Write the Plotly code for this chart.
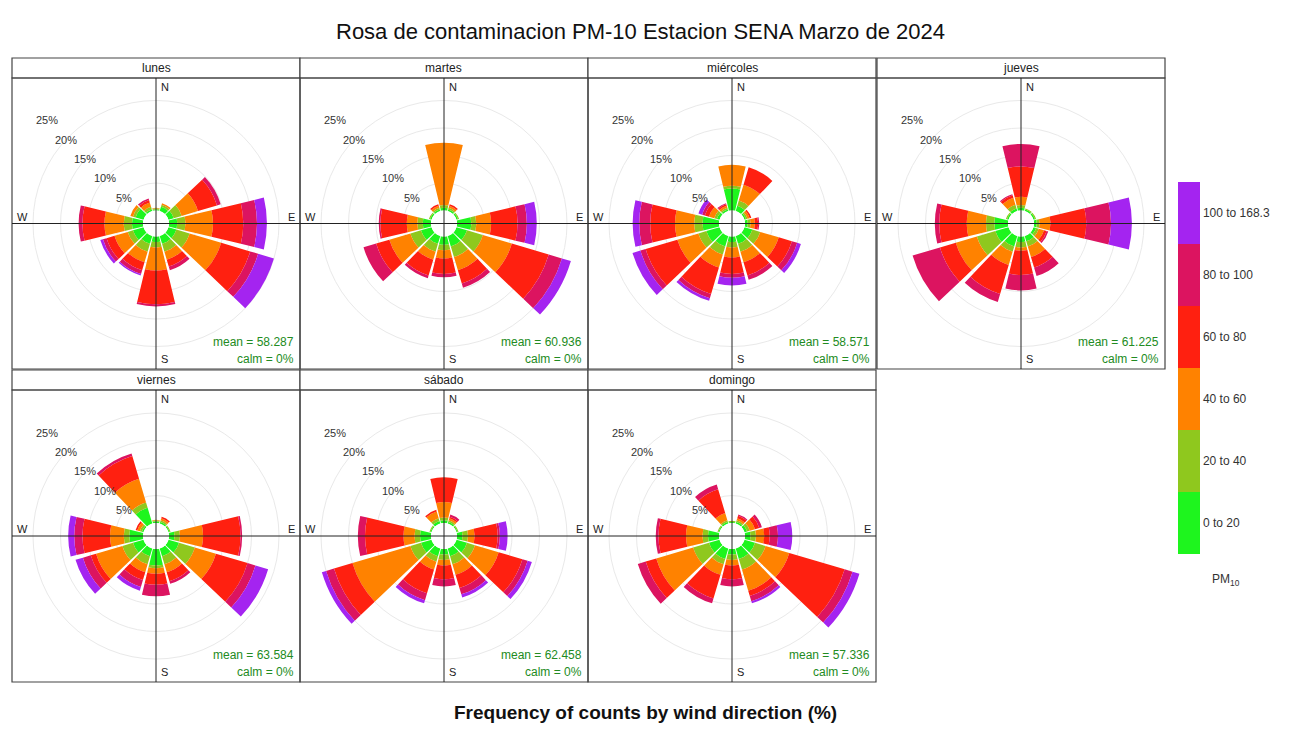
import math
import plotly.graph_objects as go

# page body has an 8px margin; draw the figure so it lands on the 1313x736 window
OFF = 8
W, H = 1313 - OFF, 736 - OFF

# ---------------- data ----------------
direcciones = [0, 30, 60, 90, 120, 150, 180, 210, 240, 270, 300, 330]
dias = ["lunes", "martes", "miércoles", "jueves", "viernes", "sábado", "domingo"]
rangos = ["0 to 20", "20 to 40", "40 to 60", "60 to 80", "80 to 100", "100 to 168.3"]
colores = ["#1EF51E", "#8FC81E", "#FF8200", "#FF2010", "#DC1460", "#A424F0"]
medias = ["58.287", "60.936", "58.571", "61.225", "63.584", "62.458", "57.336"]
calmas = ["0%", "0%", "0%", "0%", "0%", "0%", "0%"]
ticks_pct = [5, 10, 15, 20, 25]

# cumulative frequency (%) at the outer edge of each PM10 band, per direction
lunes = [
    [0.2, 0.4, 0.5, 0.5, 0.5, 0.5], [0.8, 1.2, 1.5, 1.5, 1.5, 1.5],
    [1.0, 2.5, 5.6, 9.2, 9.9, 9.9], [1.5, 3.0, 8.0, 13.5, 16.0, 17.8],
    [1.5, 4.0, 10.0, 15.5, 17.0, 20.0], [1.5, 3.0, 4.5, 5.8, 6.5, 6.5],
    [1.0, 2.0, 6.2, 12.3, 12.7, 12.7], [1.5, 3.0, 5.0, 6.5, 7.2, 7.5],
    [2.0, 3.0, 5.5, 7.0, 7.7, 8.2], [2.0, 3.5, 7.0, 11.0, 11.7, 11.7],
    [1.5, 2.0, 2.5, 2.5, 2.5, 2.5], [0.3, 0.8, 1.6, 2.1, 2.4, 2.4],
]
martes = [
    [0.5, 1.0, 12.3, 12.3, 12.3, 12.3], [0.3, 0.6, 1.0, 1.3, 1.3, 1.3],
    [0.3, 0.5, 0.5, 0.5, 0.5, 0.5], [2.6, 3.5, 6.2, 11.0, 12.7, 14.5],
    [2.0, 5.0, 10.5, 17.5, 20.0, 21.7], [2.0, 4.0, 6.5, 9.0, 9.8, 9.8],
    [1.5, 2.5, 4.0, 6.8, 7.4, 7.4], [1.5, 3.0, 4.5, 7.5, 8.0, 8.0],
    [2.0, 4.0, 8.0, 10.5, 12.9, 12.9], [1.5, 2.5, 4.4, 9.2, 9.5, 9.5],
    [0.3, 0.5, 0.5, 0.5, 0.5, 0.5], [0.3, 0.6, 1.0, 1.3, 1.3, 1.3],
]
miercoles = [
    [4.0, 4.5, 8.3, 8.3, 8.3, 8.3], [1.0, 2.0, 5.0, 8.3, 8.3, 8.3],
    [0.3, 0.6, 1.0, 1.3, 1.3, 1.3], [0.5, 1.0, 1.8, 2.4, 2.6, 2.6],
    [1.5, 3.0, 6.5, 9.0, 10.0, 10.7], [1.5, 3.0, 5.0, 7.5, 8.3, 8.3],
    [1.0, 2.0, 3.8, 6.8, 7.5, 8.9], [2.0, 3.5, 6.0, 11.0, 11.8, 12.3],
    [2.5, 4.0, 8.0, 14.0, 15.0, 16.5], [3.0, 4.5, 8.0, 12.5, 14.5, 15.7],
    [0.5, 1.0, 2.0, 2.8, 3.3, 4.0], [0.3, 0.6, 1.0, 1.3, 1.5, 1.5],
]
jueves = [
    [0.5, 1.0, 2.5, 8.0, 12.1, 12.1], [0.3, 0.5, 0.5, 0.5, 0.5, 0.5],
    [0.3, 0.5, 0.5, 0.5, 0.5, 0.5], [0.5, 1.0, 3.0, 9.5, 14.0, 17.8],
    [0.5, 1.0, 2.0, 2.5, 2.8, 2.8], [1.0, 2.0, 4.0, 6.0, 7.6, 7.6],
    [1.0, 2.0, 2.6, 7.0, 9.8, 9.8], [2.0, 3.0, 5.5, 11.0, 12.5, 12.5],
    [2.5, 6.0, 10.0, 13.0, 18.2, 18.2], [2.5, 4.0, 7.5, 12.5, 13.3, 13.3],
    [0.3, 0.5, 0.5, 0.5, 0.5, 0.5], [0.5, 1.2, 2.5, 3.0, 3.2, 3.2],
]
viernes = [
    [0.3, 0.5, 0.6, 0.6, 0.6, 0.6], [0.3, 0.6, 1.0, 1.3, 1.3, 1.3],
    [0.2, 0.4, 0.4, 0.4, 0.4, 0.4], [1.0, 2.0, 6.2, 13.0, 13.3, 13.3],
    [2.0, 5.0, 9.0, 15.0, 16.5, 18.9], [1.5, 3.0, 4.5, 6.2, 6.7, 6.7],
    [3.0, 3.5, 4.5, 6.5, 8.6, 8.6], [1.5, 3.0, 4.5, 6.0, 7.3, 8.0],
    [2.0, 4.0, 9.0, 10.0, 11.5, 12.9], [2.5, 3.5, 6.0, 11.0, 12.5, 13.6],
    [0.3, 0.7, 1.2, 1.5, 1.5, 1.5], [3.0, 4.0, 8.5, 12.8, 13.3, 13.3],
]
sabado = [
    [0.5, 1.0, 3.8, 8.3, 8.3, 8.3], [0.3, 0.6, 1.0, 1.3, 1.7, 1.7],
    [0.2, 0.4, 0.4, 0.4, 0.4, 0.4], [1.0, 2.0, 3.2, 7.4, 7.8, 9.2],
    [2.0, 3.5, 8.0, 12.5, 13.5, 14.3], [1.5, 3.0, 5.0, 7.5, 8.7, 9.3],
    [1.0, 2.0, 3.0, 5.5, 6.8, 6.8], [1.5, 2.5, 4.0, 8.5, 9.8, 10.4],
    [2.0, 4.0, 15.0, 18.5, 20.0, 20.8], [2.0, 3.0, 5.0, 12.0, 13.3, 13.3],
    [0.2, 0.4, 0.4, 0.4, 0.4, 0.4], [0.5, 1.0, 2.3, 2.6, 2.6, 2.6],
]
domingo = [
    [0.2, 0.4, 0.4, 0.4, 0.4, 0.4], [0.3, 0.6, 1.0, 1.5, 1.7, 1.7],
    [0.5, 1.0, 2.0, 2.8, 3.3, 3.3], [1.0, 2.0, 3.5, 4.5, 6.0, 8.6],
    [2.0, 4.0, 8.5, 19.0, 20.5, 21.8], [2.0, 4.0, 8.0, 9.0, 10.0, 10.4],
    [1.0, 2.0, 3.0, 5.5, 6.8, 6.8], [2.0, 3.0, 5.0, 9.5, 10.4, 10.4],
    [2.0, 5.0, 12.0, 14.0, 15.5, 15.5], [2.0, 3.0, 6.0, 11.0, 11.5, 11.5],
    [0.2, 0.4, 0.4, 0.4, 0.4, 0.4], [0.3, 0.6, 2.0, 6.5, 7.4, 7.4],
]
datos = [lunes, martes, miercoles, jueves, viernes, sabado, domingo]

# ---------------- layout geometry (window pixels) ----------------
col_left = [12, 300, 588, 877]
panel_w = 288
strip_top = [58, 370]
strip_h = 20
plot_bottom = [369, 682]
hole_px = 13
px_per_pct = 5.5


def fx(px):
    return (px - OFF) / W


def fy(py):
    return 1 - (py - OFF) / H


fig = go.Figure()
shapes = []
annotations = []
layout_polars = {}
TXT = "#222222"

for k, dia in enumerate(dias):
    row, col = divmod(k, 4)
    left = col_left[col]
    right = left + panel_w
    s_top = strip_top[row]
    p_top = s_top + strip_h
    p_bot = plot_bottom[row]
    cx = (left + right) / 2
    cy = (p_top + p_bot) / 2
    name = "polar" if k == 0 else f"polar{k + 1}"
    edges = datos[k]

    for b in range(6):
        r = [edges[d][b] - (edges[d][b - 1] if b > 0 else 0) for d in range(len(direcciones))]
        fig.add_trace(go.Barpolar(
            r=r, theta=direcciones, width=27, subplot=name,
            marker=dict(color=colores[b], line=dict(width=0)),
            name=rangos[b], showlegend=False, hoverinfo="skip",
        ))

    radius = min(panel_w, p_bot - p_top) / 2
    r_max = (radius - hole_px) / px_per_pct
    layout_polars[name] = dict(
        domain=dict(x=[fx(left), fx(right)], y=[fy(p_bot), fy(p_top)]),
        bgcolor="rgba(0,0,0,0)",
        hole=hole_px / radius,
        barmode="stack",
        radialaxis=dict(
            range=[0, r_max], tickvals=ticks_pct, showticklabels=False,
            showline=False, ticks="", gridcolor="#e9e9e9", gridwidth=1,
        ),
        angularaxis=dict(
            rotation=90, direction="clockwise", showgrid=False, showline=False,
            ticks="", showticklabels=False,
        ),
    )

    # percentage labels along the NW diagonal, at each ring
    for t in ticks_pct:
        rr = hole_px + t * px_per_pct
        annotations.append(dict(text=f"{t}%", x=fx(cx - rr / math.sqrt(2) - 3),
                                y=fy(cy - rr / math.sqrt(2) + 3), xref="paper", yref="paper",
                                showarrow=False, xanchor="center", yanchor="middle",
                                font=dict(size=11, color="#333333")))

    # strip, frame and N-S / E-W lines
    shapes.append(dict(type="rect", xref="paper", yref="paper", x0=fx(left), x1=fx(right),
                       y0=fy(p_top), y1=fy(s_top), line=dict(color="#444444", width=1.2),
                       fillcolor="white", layer="below"))
    shapes.append(dict(type="rect", xref="paper", yref="paper", x0=fx(left), x1=fx(right),
                       y0=fy(p_bot), y1=fy(p_top), line=dict(color="#444444", width=1.2),
                       layer="above"))
    shapes.append(dict(type="line", xref="paper", yref="paper", x0=fx(left), x1=fx(right),
                       y0=fy(cy), y1=fy(cy), line=dict(color="#222222", width=1), layer="above"))
    shapes.append(dict(type="line", xref="paper", yref="paper", x0=fx(cx), x1=fx(cx),
                       y0=fy(p_bot), y1=fy(p_top), line=dict(color="#222222", width=1), layer="above"))

    annotations.append(dict(text=dia, x=fx(cx), y=fy(s_top + strip_h / 2), xref="paper", yref="paper",
                            showarrow=False, xanchor="center", yanchor="middle",
                            font=dict(size=12, color=TXT)))
    for lab, ax, ay, xa in [("N", cx + 3, p_top + 9, "left"), ("S", cx + 3, p_bot - 10, "left"),
                            ("W", left + 3, cy - 7, "left"), ("E", right - 3, cy - 7, "right")]:
        annotations.append(dict(text=lab, x=fx(ax), y=fy(ay), xref="paper", yref="paper",
                                showarrow=False, xanchor=xa, yanchor="middle",
                                font=dict(size=11, color=TXT)))
    annotations.append(dict(text=f"mean = {medias[k]}", x=fx(right - 4), y=fy(p_bot - 27),
                            xref="paper", yref="paper", showarrow=False, xanchor="right",
                            yanchor="middle", font=dict(size=12, color="forestgreen")))
    annotations.append(dict(text=f"calm = {calmas[k]}", x=fx(right - 4), y=fy(p_bot - 10),
                            xref="paper", yref="paper", showarrow=False, xanchor="right",
                            yanchor="middle", font=dict(size=12, color="forestgreen")))

# title and axis caption
annotations.append(dict(text="Rosa de contaminacion PM-10 Estacion SENA Marzo de 2024",
                        x=fx(640), y=fy(31), xref="paper", yref="paper", showarrow=False,
                        xanchor="center", yanchor="middle",
                        font=dict(size=22, color="#111111")))
annotations.append(dict(text="<b>Frequency of counts by wind direction (%)</b>",
                        x=fx(645), y=fy(712), xref="paper", yref="paper", showarrow=False,
                        xanchor="center", yanchor="middle",
                        font=dict(size=19, color="#111111")))
annotations.append(dict(text="PM<sub>10</sub>", x=fx(1210), y=fy(580), xref="paper", yref="paper",
                        showarrow=False, xanchor="left", yanchor="middle",
                        font=dict(size=12, color="#333333")))

# discrete colour key
n = len(colores)
escala = []
for i, c in enumerate(colores):
    escala.append([i / n, c])
    escala.append([(i + 1) / n, c])
fig.add_trace(go.Scatter(
    x=[None], y=[None], mode="markers", showlegend=False, hoverinfo="skip",
    marker=dict(color=[0], cmin=0, cmax=n, colorscale=escala, showscale=True,
                colorbar=dict(
                    tickvals=[i + 0.5 for i in range(n)], ticktext=rangos,
                    x=fx(1178), xanchor="left", y=fy((182 + 554) / 2), yanchor="middle",
                    len=(554 - 182) / H, lenmode="fraction", thickness=22, thicknessmode="pixels",
                    outlinewidth=0, ticks="", ticklabelposition="outside",
                    tickfont=dict(size=12, color="#333333"), xpad=0, ypad=0,
                )),
))

fig.update_layout(
    width=W, height=H, margin=dict(l=0, r=0, t=0, b=0),
    paper_bgcolor="white", plot_bgcolor="white",
    font=dict(family="Liberation Sans, Arial, sans-serif"),
    xaxis=dict(visible=False), yaxis=dict(visible=False),
    shapes=shapes, annotations=annotations,
    **layout_polars,
)

fig.write_html("out.html")
